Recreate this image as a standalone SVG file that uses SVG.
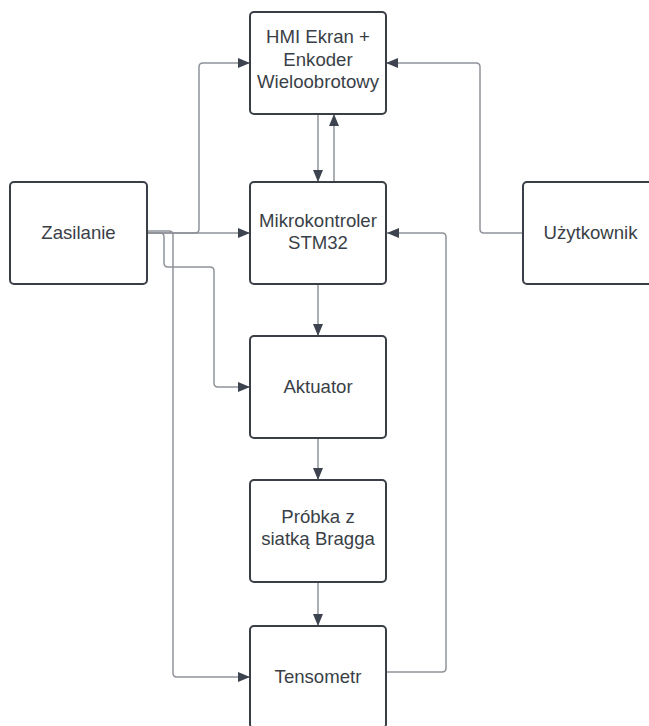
<svg xmlns="http://www.w3.org/2000/svg" width="649" height="726" viewBox="0 0 649 726">
<style>
.box{fill:#ffffff;stroke:#3a3f47;stroke-width:2}
.lbl{font-family:"Liberation Sans",Arial,sans-serif;font-size:18.6px;fill:#3a3f47;text-anchor:middle}
.con{fill:none;stroke:#8e9298;stroke-width:1.5;marker-end:url(#ah)}
</style>
<defs>
<marker id="ah" viewBox="0 0 12 10" refX="12" refY="5" markerWidth="12" markerHeight="10" markerUnits="userSpaceOnUse" orient="auto">
<path d="M0,0 L12,5 L0,10 z" fill="#3d4450"/>
</marker>
</defs>
<rect width="649" height="726" fill="#ffffff"/>
<g id="connectors">
<path class="con" d="M147,233 H195 Q199,233 199,229 V67 Q199,63 203,63 H250"/>
<path class="con" d="M147,233 H250"/>
<path class="con" d="M147,233 H160 Q164,233 164,237 V263 Q164,267 168,267 H210 Q214,267 214,271 V383 Q214,387 218,387 H250"/>
<path class="con" d="M147,231 H169 Q173,231 173,235 V673 Q173,677 177,677 H250"/>
<path class="con" d="M387,672 H442 Q446,672 446,668 V237 Q446,233 442,233 H387"/>
<path class="con" d="M523,233 H484 Q480,233 480,229 V67 Q480,63 476,63 H386"/>
<path class="con" d="M318,114 V182"/>
<path class="con" d="M334,182 V114"/>
<path class="con" d="M318,284 V336"/>
<path class="con" d="M318,438 V480"/>
<path class="con" d="M318,582 V626"/>
</g>
<g id="hmi">
<rect class="box" x="250" y="12" width="136" height="102" rx="4"/>
<text class="lbl" x="318" y="43">HMI Ekran +</text>
<text class="lbl" x="318" y="65.5">Enkoder</text>
<text class="lbl" x="318" y="88">Wieloobrotowy</text>
</g>
<g id="mikrokontroler">
<rect class="box" x="250" y="182" width="136" height="102" rx="4"/>
<text class="lbl" x="318" y="227">Mikrokontroler</text>
<text class="lbl" x="318" y="249">STM32</text>
</g>
<g id="zasilanie">
<rect class="box" x="10" y="182" width="137" height="102" rx="4"/>
<text class="lbl" x="78.5" y="239">Zasilanie</text>
</g>
<g id="uzytkownik">
<rect class="box" x="523" y="182" width="135" height="102" rx="4"/>
<text class="lbl" x="590.5" y="239">Użytkownik</text>
</g>
<g id="aktuator">
<rect class="box" x="250" y="336" width="136" height="102" rx="4"/>
<text class="lbl" x="318" y="393">Aktuator</text>
</g>
<g id="probka">
<rect class="box" x="250" y="480" width="136" height="102" rx="4"/>
<text class="lbl" x="318" y="523">Próbka z</text>
<text class="lbl" x="318" y="545">siatką Bragga</text>
</g>
<g id="tensometr">
<rect class="box" x="250" y="626" width="136" height="102" rx="4"/>
<text class="lbl" x="318" y="683">Tensometr</text>
</g>
</svg>
